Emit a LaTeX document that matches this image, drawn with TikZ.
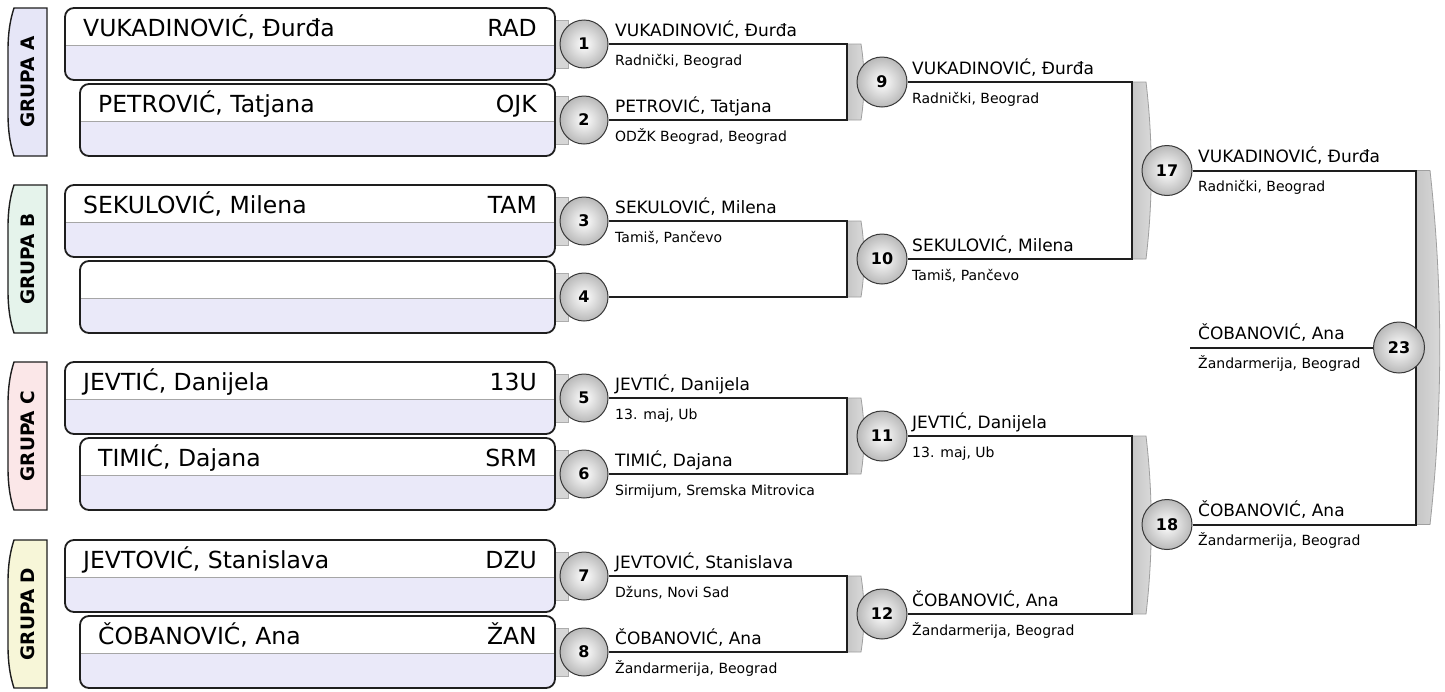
\documentclass[tikz,border=0pt]{standalone}
\usepackage{fontspec}
\setmainfont{DejaVu Sans}
\definecolor{lav}{HTML}{EAE9F9}
\definecolor{grA}{HTML}{E6E6F7}
\definecolor{grB}{HTML}{E5F3EB}
\definecolor{grC}{HTML}{FBE7E8}
\definecolor{grD}{HTML}{F7F6D8}
\definecolor{ink}{HTML}{1E1E1E}
\pgfdeclarelayer{bg}
\pgfsetlayers{bg,main}
\tikzset{
  conn/.style={draw=ink, line width=2pt},
  boxline/.style={draw=ink, line width=1.8pt},
  ball/.style={circle, minimum size=48pt, inner sep=0pt, shading=radial, inner color=white, outer color=gray!55, draw=gray!45!black, line width=1pt, font=\bfseries\fontsize{16}{16}\selectfont},
  bigball/.style={ball, minimum size=50pt},
  barfill/.style={draw=gray!75, line width=0.8pt, left color=gray!45, right color=gray!28},
  tabbar/.style={draw=gray!65, line width=0.8pt, fill=gray!32},
  nm/.style={font=\fontsize{17}{17}\selectfont, inner sep=0pt, anchor=base west},
  cl/.style={font=\fontsize{14}{14}\selectfont, inner sep=0pt, anchor=base west},
  bn/.style={font=\fontsize{23.5}{24}\selectfont, inner sep=0pt, anchor=base west},
  bc/.style={font=\fontsize{23.5}{24}\selectfont, inner sep=0pt, anchor=base east},
  grp/.style={font=\bfseries\fontsize{18.5}{18.5}\selectfont, rotate=90, inner sep=0pt, text=black},
}
\newcommand\PBox[6]{%
  \begin{scope}
    \clip[rounded corners=9pt] (#1,#2) rectangle (555,#2+72);
    \fill[lav] (#1,#2+37) rectangle (555,#2+72);
  \end{scope}
  \draw[gray!70, line width=1pt] (#1,#2+37) -- (555,#2+37);
  \draw[boxline, rounded corners=9pt] (#1,#2) rectangle (555,#2+72);
  \node[bn] (#5n) at (#6,#2+28) {#3};
  \node[bc] (#5c) at (537,#2+28) {#4};
}
\newcommand\GTab[3]{%
  \draw[boxline, fill=#2, line width=1.4pt] (47,#1) -- (14,#1) .. controls (10,#1+12) and (8,#1+26) .. (8,#1+42) -- (8,#1+106) .. controls (8,#1+122) and (10,#1+136) .. (14,#1+148) -- (47,#1+148) -- cycle;
  \node[grp] (g#3) at (28,#1+74) {GRUPA #3};
}
\newcommand\BarShape[4]{%
  \path[barfill] (#1,#2) -- (#1+14,#2) .. controls (#1+14+#4,#2*0.667+#3*0.333) and (#1+14+#4,#2*0.333+#3*0.667) .. (#1+14,#3) -- (#1,#3) -- cycle;
}
\newcommand\Lab[5]{%
  \node[nm] (l#1n) at (#2,#3-8) {#4};
  \node[cl] (l#1c) at (#2,#3+21) {#5};
}
\begin{document}
\begin{tikzpicture}[x=1pt,y=-1pt]
\begin{pgfonlayer}{bg}
\useasboundingbox (0,0) rectangle (1445,691);
\fill[white] (0,0) rectangle (1445,691);
\end{pgfonlayer}
% group tabs
\GTab{8}{grA}{A}
\GTab{185}{grB}{B}
\GTab{362}{grC}{C}
\GTab{540}{grD}{D}
% small tabs behind first-round circles
\foreach \yy in {44,120,221,297,398,474,576,652}{
  \path[tabbar] (555,\yy-24) rectangle (568,\yy+24);
}
% player boxes
\PBox{65}{8}{VUKADINOVIĆ, Đurđa}{RAD}{b1}{83}
\PBox{80}{84}{PETROVIĆ, Tatjana}{OJK}{b2}{98}
\PBox{65}{185}{SEKULOVIĆ, Milena}{TAM}{b3}{83}
\PBox{80}{261}{}{}{b4}{98}
\PBox{65}{362}{JEVTIĆ, Danijela}{13U}{b5}{83}
\PBox{80}{438}{TIMIĆ, Dajana}{SRM}{b6}{98}
\PBox{65}{540}{JEVTOVIĆ, Stanislava}{DZU}{b7}{83}
\PBox{80}{616}{ČOBANOVIĆ, Ana}{ŽAN}{b8}{98}
% circles
\node[ball] (m1) at (584,44) {1};
\node[ball] (m2) at (584,120) {2};
\node[ball] (m3) at (584,221) {3};
\node[ball] (m4) at (584,297) {4};
\node[ball] (m5) at (584,398) {5};
\node[ball] (m6) at (584,474) {6};
\node[ball] (m7) at (584,576) {7};
\node[ball] (m8) at (584,652) {8};
\node[bigball] (m9) at (882,82) {9};
\node[bigball] (m10) at (882,259) {10};
\node[bigball] (m11) at (882,436) {11};
\node[bigball] (m12) at (882,614) {12};
\node[bigball] (m17) at (1167,170.5) {17};
\node[bigball] (m18) at (1167,524.5) {18};
\node[bigball, minimum size=51pt] (m23) at (1399,347.5) {23};
\coordinate (XA) at (847,0);
\coordinate (XB) at (1132,0);
\coordinate (XC) at (1416,0);
\coordinate (f23) at (1190,347.5);
\begin{pgfonlayer}{bg}
% bracket bars
\BarShape{847}{44}{120}{4}
\BarShape{847}{221}{297}{4}
\BarShape{847}{398}{474}{4}
\BarShape{847}{576}{652}{4}
\BarShape{1132}{82}{259}{7}
\BarShape{1132}{436}{614}{7}
\BarShape{1416}{170.5}{524.5}{13}
% connectors
\draw[conn] (m1.east) -- (m1 -| XA) -- (m2 -| XA) -- (m2.east);
\draw[conn] (m3.east) -- (m3 -| XA) -- (m4 -| XA) -- (m4.east);
\draw[conn] (m5.east) -- (m5 -| XA) -- (m6 -| XA) -- (m6.east);
\draw[conn] (m7.east) -- (m7 -| XA) -- (m8 -| XA) -- (m8.east);
\draw[conn] (m9.east) -- (m9 -| XB) -- (m10 -| XB) -- (m10.east);
\draw[conn] (m11.east) -- (m11 -| XB) -- (m12 -| XB) -- (m12.east);
\draw[conn] (m17.east) -- (m17 -| XC) -- (m18 -| XC) -- (m18.east);
\draw[conn] (f23) -- (m23.west);
\end{pgfonlayer}
% labels
\Lab{1}{615}{44}{VUKADINOVIĆ, Đurđa}{Radnički, Beograd}
\Lab{2}{615}{120}{PETROVIĆ, Tatjana}{ODŽK Beograd, Beograd}
\Lab{3}{615}{221}{SEKULOVIĆ, Milena}{Tamiš, Pančevo}
\Lab{5}{615}{398}{JEVTIĆ, Danijela}{13. maj, Ub}
\Lab{6}{615}{474}{TIMIĆ, Dajana}{Sirmijum, Sremska Mitrovica}
\Lab{7}{615}{576}{JEVTOVIĆ, Stanislava}{Džuns, Novi Sad}
\Lab{8}{615}{652}{ČOBANOVIĆ, Ana}{Žandarmerija, Beograd}
\Lab{9}{912}{82}{VUKADINOVIĆ, Đurđa}{Radnički, Beograd}
\Lab{10}{912}{259}{SEKULOVIĆ, Milena}{Tamiš, Pančevo}
\Lab{11}{912}{436}{JEVTIĆ, Danijela}{13. maj, Ub}
\Lab{12}{912}{614}{ČOBANOVIĆ, Ana}{Žandarmerija, Beograd}
\Lab{17}{1198}{170.5}{VUKADINOVIĆ, Đurđa}{Radnički, Beograd}
\Lab{18}{1198}{524.5}{ČOBANOVIĆ, Ana}{Žandarmerija, Beograd}
\Lab{23}{1198}{347.5}{ČOBANOVIĆ, Ana}{Žandarmerija, Beograd}
\end{tikzpicture}
\end{document}
